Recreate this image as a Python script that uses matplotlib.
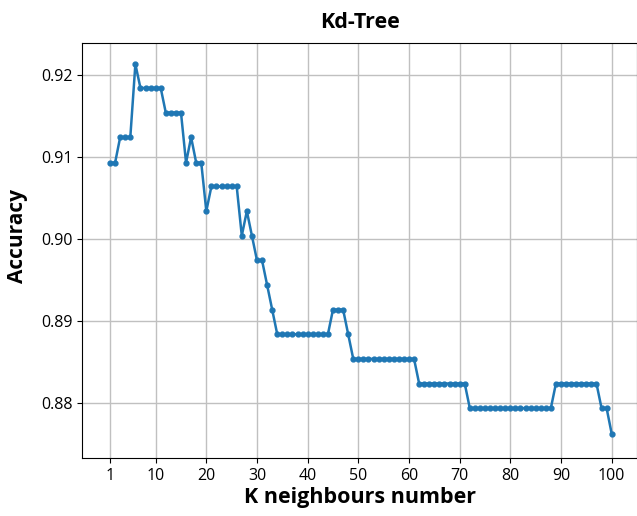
import matplotlib
matplotlib.use("Agg")
import matplotlib.pyplot as plt

plt.rcParams['font.family'] = ['Open Sans', 'DejaVu Sans']

k_values = list(range(1, 101))
accuracy = [
    0.9093, 0.9093, 0.9124, 0.9124, 0.9124, 0.9213, 0.9184, 0.9184, 0.9184, 0.9184,
    0.9184, 0.9154, 0.9154, 0.9154, 0.9154, 0.9093, 0.9124, 0.9093, 0.9093, 0.9034,
    0.9064, 0.9064, 0.9064, 0.9064, 0.9064, 0.9064, 0.9004, 0.9034, 0.9004, 0.8974,
    0.8974, 0.8944, 0.8914, 0.8884, 0.8884, 0.8884, 0.8884, 0.8884, 0.8884, 0.8884,
    0.8884, 0.8884, 0.8884, 0.8884, 0.8914, 0.8914, 0.8914, 0.8884, 0.8854, 0.8854,
    0.8854, 0.8854, 0.8854, 0.8854, 0.8854, 0.8854, 0.8854, 0.8854, 0.8854, 0.8854,
    0.8854, 0.8824, 0.8824, 0.8824, 0.8824, 0.8824, 0.8824, 0.8824, 0.8824, 0.8824,
    0.8824, 0.8794, 0.8794, 0.8794, 0.8794, 0.8794, 0.8794, 0.8794, 0.8794, 0.8794,
    0.8794, 0.8794, 0.8794, 0.8794, 0.8794, 0.8794, 0.8794, 0.8794, 0.8824, 0.8824,
    0.8824, 0.8824, 0.8824, 0.8824, 0.8824, 0.8824, 0.8824, 0.8794, 0.8794, 0.8763,
]
x_ticks = [1, 10, 20, 30, 40, 50, 60, 70, 80, 90, 100]

fig = plt.figure(figsize=(6.37, 5.16), dpi=100)
ax = fig.add_axes([0.129, 0.112, 0.871, 0.805])

ax.plot(k_values, accuracy, marker='o', markersize=3.5, linewidth=1.8, color='#1f77b4')
ax.grid(True, color='#c0c0c0', linewidth=1)
ax.set_axisbelow(True)
ax.set_xticks(x_ticks)
ax.set_xlim(-4.5, 105)
ax.set_ylim(0.8733, 0.9239)
ax.tick_params(labelsize=11.5)

ax.set_title("Kd-Tree", fontsize=15.5, fontweight='bold', pad=11)
ax.set_xlabel("K neighbours number", fontsize=15.5, fontweight='bold', labelpad=2)
ax.set_ylabel("Accuracy", fontsize=15, fontweight='bold')
ax.yaxis.set_label_coords(-0.098, 0.534)

fig.savefig("out.png", dpi=100)
